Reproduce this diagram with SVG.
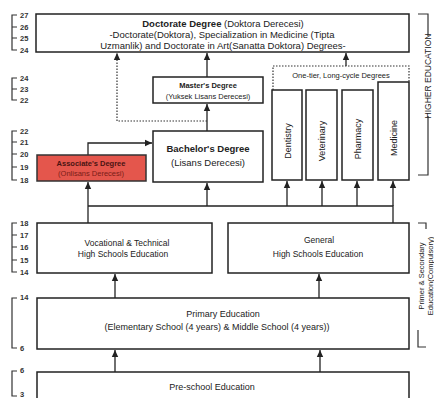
<svg xmlns="http://www.w3.org/2000/svg" width="434" height="398" viewBox="0 0 434 398">
<style>
text{font-family:"Liberation Sans",Arial,sans-serif;fill:#222}
.box{fill:#fff;stroke:#222;stroke-width:1.5}
.red{fill:#e4564c;stroke:#333;stroke-width:1.5}
.t9{font-size:9px;text-anchor:middle}
.t9b{font-size:9.5px;text-anchor:middle;font-weight:bold}
.t7{font-size:7.5px;text-anchor:middle}
.t7b{font-size:7.5px;text-anchor:middle;font-weight:bold}
.age{font-size:7.5px;font-weight:bold;fill:#333}
.scale{fill:none;stroke:#333;stroke-width:1.2}
.ln{fill:none;stroke:#222;stroke-width:1.3}
.dot{fill:none;stroke:#333;stroke-width:1.2;stroke-dasharray:1.5 1.5}
</style>
<defs>
<marker id="ah" markerWidth="7" markerHeight="8" refX="7" refY="4" orient="auto" markerUnits="userSpaceOnUse"><path d="M0,0.8 L7,4 L0,7.2 z" fill="#222"/></marker>
</defs>

<g id="age-scales">
<path class="scale" d="M17,15 H12 V50 H17 M12,27 H17 M12,38 H17"/>
<text class="age" x="20" y="18">27</text><text class="age" x="20" y="30">26</text><text class="age" x="20" y="41">25</text><text class="age" x="20" y="53">24</text>
<path class="scale" d="M17,78 H12 V100 H17 M12,89 H17"/>
<text class="age" x="20" y="81">24</text><text class="age" x="20" y="92">23</text><text class="age" x="20" y="103">22</text>
<path class="scale" d="M17,131 H12 V180 H17 M12,142 H17 M12,154 H17 M12,167 H17"/>
<text class="age" x="20" y="134">22</text><text class="age" x="20" y="145">21</text><text class="age" x="20" y="157">20</text><text class="age" x="20" y="170">19</text><text class="age" x="20" y="183">18</text>
<path class="scale" d="M17,223 H12 V272 H17 M12,235 H17 M12,247 H17 M12,260 H17"/>
<text class="age" x="20" y="226">18</text><text class="age" x="20" y="238">17</text><text class="age" x="20" y="250">16</text><text class="age" x="20" y="263">15</text><text class="age" x="20" y="275">14</text>
<path class="scale" d="M17,298 H12 V348 H17"/>
<text class="age" x="20" y="300">14</text><text class="age" x="20" y="351">6</text>
<path class="scale" d="M17,371 H12 V396 H17"/>
<text class="age" x="20" y="373">6</text><text class="age" x="20" y="397">3</text>
</g>

<g id="side-labels">
<path class="scale" d="M418,14 H428 V36 M428,116 V175 H418"/>
<text x="431" y="76" transform="rotate(-90 431 76)" style="font-size:8.5px;text-anchor:middle">HIGHER EDUCATION</text>
<path class="scale" d="M418,223 H426 V229 M418,330 V347 H426"/>
<text x="424" y="276" transform="rotate(-90 424 276)" style="font-size:7.5px;text-anchor:middle">Primer &amp; Secondary</text>
<text x="432.5" y="276" transform="rotate(-90 432.5 276)" style="font-size:7.5px;text-anchor:middle">Education(Compulsory)</text>
</g>

<g id="connectors">
<path class="ln" d="M207,77 V53" marker-end="url(#ah)"/>
<path class="ln" d="M207,131 V104" marker-end="url(#ah)"/>
<path class="dot" d="M207,121 H117 V53" marker-end="url(#ah)"/>
<path class="ln" d="M346,66 V53" marker-end="url(#ah)"/>
<path class="ln" d="M88,155 V143 H152" marker-end="url(#ah)"/>
<path class="ln" d="M88,223 V182" marker-end="url(#ah)"/>
<path class="ln" d="M88,206 H393 V223"/>
<path class="ln" d="M207,206 V183" marker-end="url(#ah)"/>
<path class="ln" d="M287,206 V181" marker-end="url(#ah)"/>
<path class="ln" d="M322,206 V181" marker-end="url(#ah)"/>
<path class="ln" d="M357,206 V181" marker-end="url(#ah)"/>
<path class="ln" d="M393,206 V181" marker-end="url(#ah)"/>
<path class="ln" d="M115,298 V274" marker-end="url(#ah)"/>
<path class="ln" d="M319,298 V274" marker-end="url(#ah)"/>
<path class="ln" d="M115,372 V350" marker-end="url(#ah)"/>
<path class="ln" d="M320,372 V350" marker-end="url(#ah)"/>
</g>

<g id="doctorate">
<rect class="box" x="36" y="14" width="373" height="38"/>
<text class="t9" x="223" y="26.5" style="font-size:9.5px"><tspan font-weight="bold">Doctorate Degree</tspan> (Doktora Derecesi)</text>
<text class="t9" x="222" y="37.5" style="font-size:9.5px">-Doctorate(Doktora), Specialization in Medicine (Tipta</text>
<text class="t9" x="223" y="48.5" style="font-size:9.5px">Uzmanlik) and Doctorate in Art(Sanatta Doktora) Degrees-</text>
</g>

<g id="masters">
<rect class="box" x="153" y="77" width="110" height="26"/>
<text class="t7b" x="208" y="88">Master's Degree</text>
<text class="t7" x="208" y="99">(Yuksek Lisans Derecesi)</text>
</g>

<g id="bachelors">
<rect class="box" x="153" y="131" width="110" height="51"/>
<text class="t9b" x="208" y="152">Bachelor's Degree</text>
<text class="t9" x="208" y="166" style="font-size:9.5px">(Lisans Derecesi)</text>
</g>

<g id="associates">
<rect class="red" x="37" y="155" width="109" height="26"/>
<text class="t7b" x="91" y="166" style="fill:#4a1412">Associate's Degree</text>
<text class="t7" x="91" y="176" style="fill:#7a1d18">(Onlisans Derecesi)</text>
</g>

<g id="one-tier">
<path class="dot" d="M273,90 V66 H409 V82"/>
<text class="t7" x="341" y="78">One-tier, Long-cycle Degrees</text>
</g>

<g id="dentistry">
<rect class="box" x="272" y="90" width="30" height="90"/>
<text class="t9" x="291" y="141" transform="rotate(-90 291 141)">Dentistry</text>
</g>
<g id="veterinary">
<rect class="box" x="306" y="90" width="31" height="90"/>
<text class="t9" x="325" y="141" transform="rotate(-90 325 141)">Veterinary</text>
</g>
<g id="pharmacy">
<rect class="box" x="342" y="90" width="31" height="90"/>
<text class="t9" x="361" y="139" transform="rotate(-90 361 139)">Pharmacy</text>
</g>
<g id="medicine">
<rect class="box" x="378" y="82" width="31" height="98"/>
<text class="t9" x="397" y="138" transform="rotate(-90 397 138)">Medicine</text>
</g>

<g id="vocational">
<rect class="box" x="37" y="223" width="175" height="50"/>
<text class="t9" x="127" y="246" style="font-size:8.5px">Vocational &amp; Technical</text>
<text class="t9" x="123" y="257" style="font-size:8.5px">High Schools Education</text>
</g>

<g id="general">
<rect class="box" x="228" y="223" width="181" height="50"/>
<text class="t9" x="319" y="243" style="font-size:8.5px">General</text>
<text class="t9" x="318" y="257" style="font-size:8.5px">High Schools Education</text>
</g>

<g id="primary">
<rect class="box" x="37" y="298" width="372" height="51"/>
<text class="t9" x="223" y="317">Primary Education</text>
<text class="t9" x="217" y="330">(Elementary School (4 years) &amp; Middle School (4 years))</text>
</g>

<g id="preschool">
<rect class="box" x="37" y="372" width="372" height="40"/>
<text class="t9" x="212" y="390">Pre-school Education</text>
</g>
</svg>
